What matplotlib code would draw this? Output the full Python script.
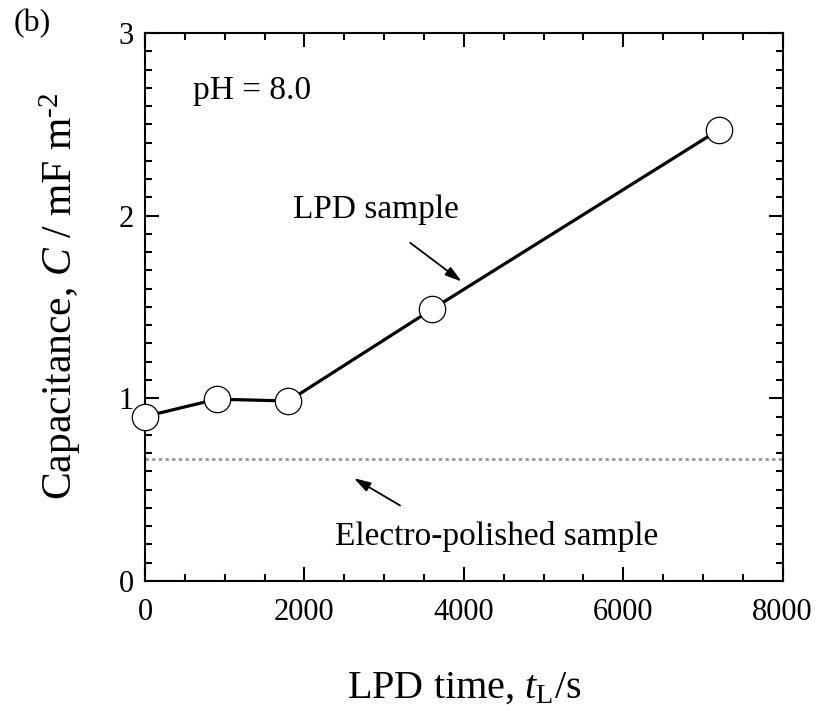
import matplotlib
matplotlib.use("Agg")
import matplotlib.pyplot as plt
from matplotlib.ticker import MultipleLocator

# LPD time (s) vs capacitance (mF m^-2)
t_lpd = [0, 900, 1800, 3600, 7200]
cap = [0.90, 0.995, 0.985, 1.487, 2.47]
cap_polished = 0.67

plt.rcParams['font.family'] = ['Liberation Serif', 'DejaVu Serif']
plt.rcParams['mathtext.fontset'] = 'custom'
plt.rcParams['mathtext.it'] = 'Liberation Serif:italic'
plt.rcParams['mathtext.rm'] = 'Liberation Serif'

fig = plt.figure(figsize=(8.17, 7.11), dpi=100)
ax = fig.add_axes([0.1775, 0.183, 0.7805, 0.7706])

ax.axhline(cap_polished, color='#999999', lw=2, linestyle=(0, (1.2, 1.2)), zorder=1)
ax.plot(t_lpd, cap, color='black', lw=2.3, marker='o', markersize=19,
        markerfacecolor='white', markeredgecolor='black', markeredgewidth=0.9,
        zorder=3, clip_on=False)

ax.set_xlim(0, 8000)
ax.set_ylim(0, 3)
ax.xaxis.set_major_locator(MultipleLocator(2000))
ax.xaxis.set_minor_locator(MultipleLocator(500))
ax.yaxis.set_major_locator(MultipleLocator(1))
ax.yaxis.set_minor_locator(MultipleLocator(0.1))
ax.tick_params(which='both', direction='in', top=True, right=True, width=1.5, labelsize=22)
ax.tick_params(which='major', length=10)
ax.tick_params(axis='x', which='major', pad=12)
ax.tick_params(axis='y', which='major', pad=8)
ax.tick_params(which='minor', length=5)
for s in ax.spines.values():
    s.set_linewidth(1.5)

ax.set_xlabel('LPD time, $t_{\\mathrm{L}}$/s', fontsize=29, labelpad=31)
ax.set_ylabel('Capacitance, $C$ / mF m$^{\\text{-2}}$', fontsize=30)
ax.yaxis.set_label_coords(-0.098, 0.52)

ax.text(0.075, 0.895, 'pH = 8.0', transform=ax.transAxes, fontsize=24, va='center')

ax.annotate('', xy=(4000, 1.63), xytext=(3300, 1.86),
            arrowprops=dict(arrowstyle='-|>,head_length=1.0,head_width=0.3', color='black', lw=1.3))
ax.text(2900, 2.03, 'LPD sample', fontsize=24, ha='center', va='center')

ax.annotate('', xy=(2590, 0.57), xytext=(3230, 0.405),
            arrowprops=dict(arrowstyle='-|>,head_length=1.0,head_width=0.3', color='black', lw=1.3))
ax.text(4410, 0.245, 'Electro-polished sample', fontsize=24, ha='center', va='center')

fig.text(0.04, 0.967, '(b)', fontsize=23, ha='center', va='center')

fig.savefig('out.png', dpi=100)
